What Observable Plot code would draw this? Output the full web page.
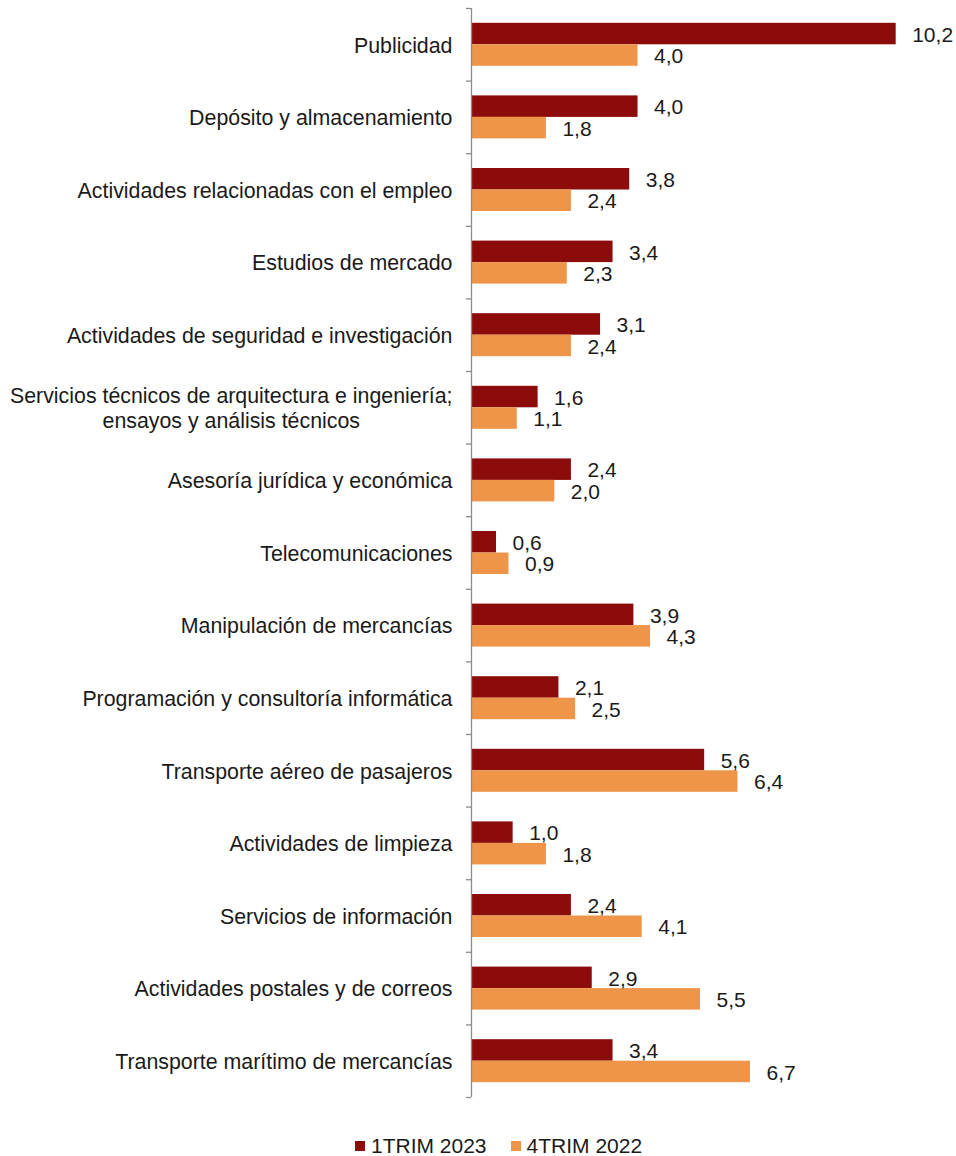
<!DOCTYPE html>
<html>
<head>
<meta charset="utf-8">
<script src="https://cdn.jsdelivr.net/npm/d3@7"></script>
<script src="https://cdn.jsdelivr.net/npm/@observablehq/plot@0.6"></script>
<style>
  body { margin: 0; background: #fff; font-family: "Liberation Sans", Arial, sans-serif; }
  #chart svg { display: block; }
  .legend { display: flex; align-items: center; padding-left: 355px; margin-top: 24px; font-size: 21px; color: #1a1a1a; }
  .legend .item { display: flex; align-items: center; margin-right: 24px; }
  .legend .sw { width: 10px; height: 10px; margin-right: 6px; }
</style>
</head>
<body>
<div id="chart"></div>
<script>
const categories = [
  "Publicidad",
  "Depósito y almacenamiento",
  "Actividades relacionadas con el empleo",
  "Estudios de mercado",
  "Actividades de seguridad e investigación",
  "Servicios técnicos de arquitectura e ingeniería;\nensayos y análisis técnicos",
  "Asesoría jurídica y económica",
  "Telecomunicaciones",
  "Manipulación de mercancías",
  "Programación y consultoría informática",
  "Transporte aéreo de pasajeros",
  "Actividades de limpieza",
  "Servicios de información",
  "Actividades postales y de correos",
  "Transporte marítimo de mercancías"
];
const seriesNames = ["1TRIM 2023", "4TRIM 2022"];
const trim1_2023 = [10.2, 4.0, 3.8, 3.4, 3.1, 1.6, 2.4, 0.6, 3.9, 2.1, 5.6, 1.0, 2.4, 2.9, 3.4];
const trim4_2022 = [4.0, 1.8, 2.4, 2.3, 2.4, 1.1, 2.0, 0.9, 4.3, 2.5, 6.4, 1.8, 4.1, 5.5, 6.7];
const colors = ["#8C0B0B", "#EF9549"];

const dark = categories.map((c, i) => ({category: c, value: trim1_2023[i]}));
const light = categories.map((c, i) => ({category: c, value: trim4_2022[i]}));
const fmt = v => v.toFixed(1).replace(".", ",");

const band = (1110 - 8 - 13) / categories.length;
const outer = 14.8;
const half = band / 2;
const barOff = (half - outer) / 2;

const plot = Plot.plot({
  width: 956,
  height: 1110,
  marginLeft: 471,
  marginRight: 27,
  marginTop: 8,
  marginBottom: 13,
  style: {fontFamily: '"Liberation Sans", Arial, sans-serif', fontSize: "21px", color: "#1a1a1a", background: "#fff"},
  x: {domain: [0, 11], axis: null},
  y: {domain: categories, padding: 0, round: false, label: null},
  marks: [
    Plot.barX(dark, {y: "category", x: "value", fill: colors[0], insetTop: outer, insetBottom: half}),
    Plot.barX(light, {y: "category", x: "value", fill: colors[1], insetTop: half, insetBottom: outer}),
    Plot.text(dark, {y: "category", x: "value", text: d => fmt(d.value), textAnchor: "start", dx: 16, dy: -barOff + 1, fill: "#1a1a1a", fontSize: 21}),
    Plot.text(light, {y: "category", x: "value", text: d => fmt(d.value), textAnchor: "start", dx: 16, dy: barOff + 1, fill: "#1a1a1a", fontSize: 21}),
    Plot.ruleX([0], {stroke: "#8c8c8c", strokeWidth: 1.3}),
    Plot.ruleY(categories, {y: d => d, x1: 0, x2: 0, insetLeft: -5, dy: -half, stroke: "#8c8c8c", strokeWidth: 1.3}),
    Plot.ruleY(categories.slice(-1), {y: d => d, x1: 0, x2: 0, insetLeft: -5, dy: half, stroke: "#8c8c8c", strokeWidth: 1.3}),
    Plot.axisY({tickSize: 0, tickPadding: 19, fontSize: 21.35, lineHeight: 1.13, label: null})
  ]
});
document.getElementById("chart").appendChild(plot);

// center multi-line category labels like the original
plot.querySelectorAll("text").forEach(t => {
  const spans = t.querySelectorAll("tspan");
  if (spans.length > 1 && t.closest('[aria-label="y-axis tick label"]')) {
    const w = t.getBBox().width;
    t.setAttribute("text-anchor", "middle");
    const tr = t.getAttribute("transform") || "";
    t.setAttribute("transform", tr + ` translate(${-w / 2},0)`);
  }
});

const legend = document.createElement("div");
legend.className = "legend";
seriesNames.forEach((n, i) => {
  const it = document.createElement("div");
  it.className = "item";
  const sw = document.createElement("span");
  sw.className = "sw";
  sw.style.background = colors[i];
  const lb = document.createElement("span");
  lb.textContent = n;
  it.appendChild(sw); it.appendChild(lb);
  legend.appendChild(it);
});
document.body.appendChild(legend);
</script>
</body>
</html>
